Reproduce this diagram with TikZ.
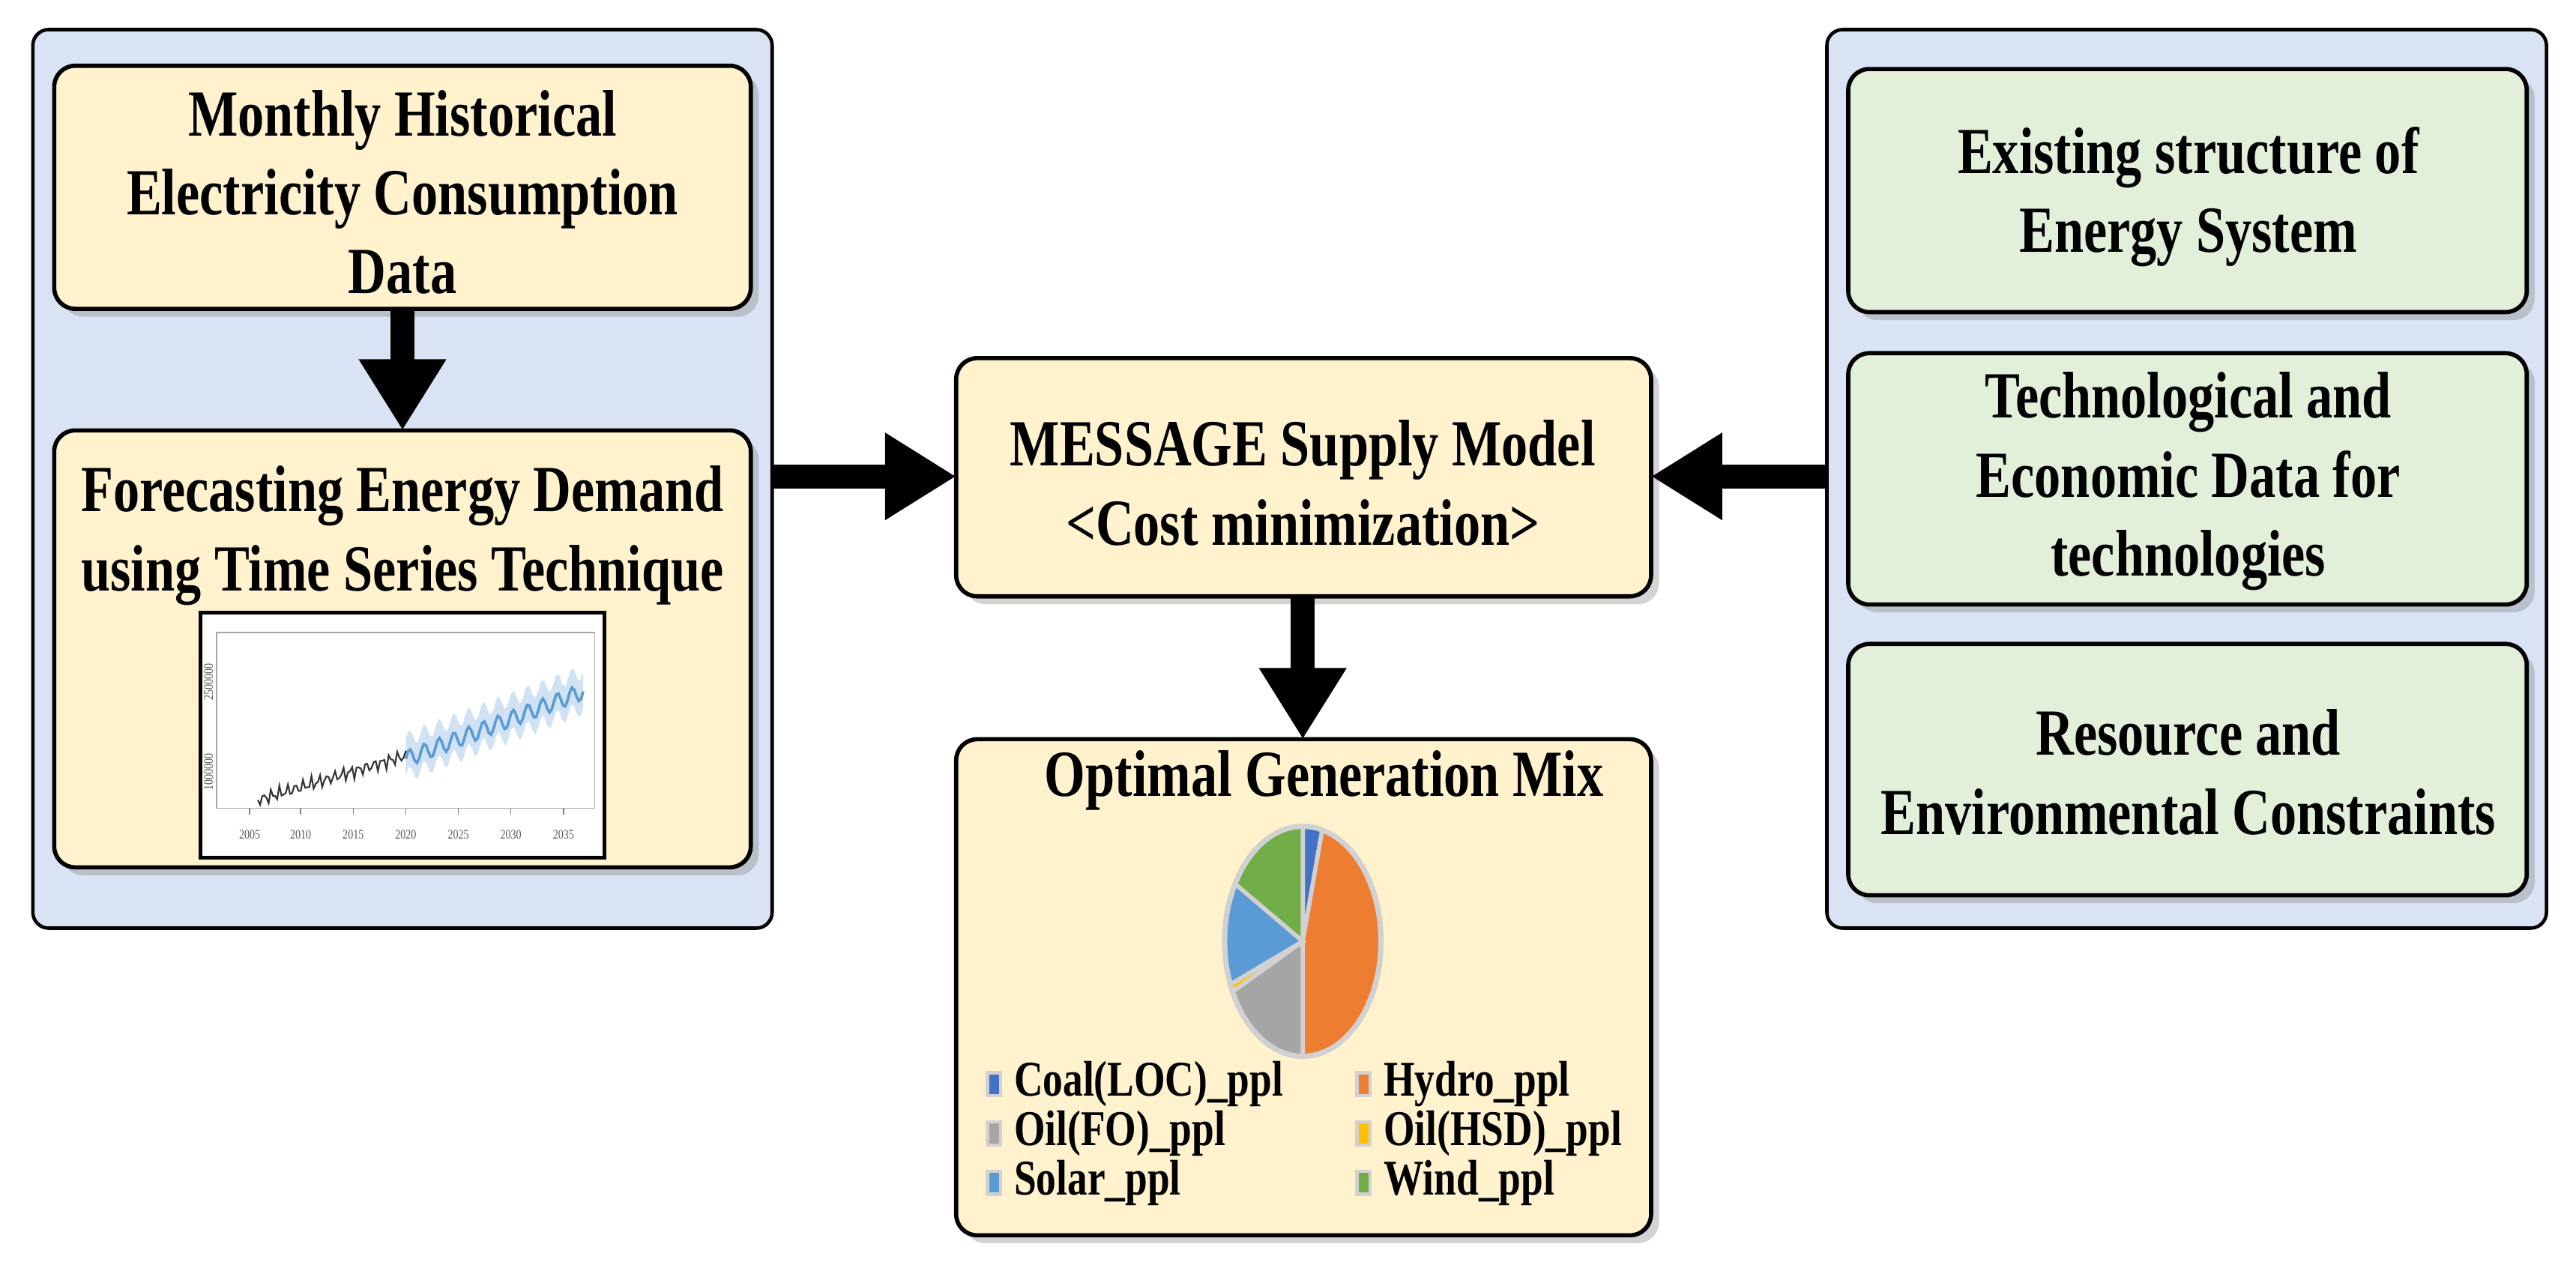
\documentclass[tikz,border=0pt]{standalone}
\usepackage{fontspec}
\setmainfont{Liberation Serif}[FakeStretch=0.8]
\usetikzlibrary{arrows.meta,shadows}
\definecolor{panel}{HTML}{DAE3F3}
\definecolor{yel}{HTML}{FFF2CC}
\definecolor{grn}{HTML}{E2F0D9}
\definecolor{cb}{HTML}{4472C4}
\definecolor{co}{HTML}{ED7D31}
\definecolor{cg}{HTML}{A5A5A5}
\definecolor{cy}{HTML}{FFC000}
\definecolor{cs}{HTML}{5B9BD5}
\definecolor{cw}{HTML}{70AD47}
\begin{document}
\begin{tikzpicture}[x=0.02192cm,y=-0.02192cm,
  pnl/.style={draw=black,line width=1.3pt,fill=panel,rounded corners=6pt},
  box/.style={draw=black,line width=1.6pt,rounded corners=8pt,drop shadow={opacity=0.35,shadow xshift=3pt,shadow yshift=-3pt}},
  txt/.style={font=\fontsize{25}{30}\selectfont\bfseries,align=center},
  leg/.style={font=\fontsize{19}{22}\selectfont\bfseries,anchor=west,inner sep=0},
  big/.style={line width=9pt,-{Triangle[length=0.95cm,width=1.1cm]}}]
\useasboundingbox (0,0) rectangle (1568,770);
% panels
\draw[pnl] (20,18) rectangle (470,565);
\draw[pnl] (1112,18) rectangle (1550,565);
\coordinate (lp) at (470,290); \coordinate (rp) at (1112,290);
% left boxes
\draw[box,fill=yel] (33,40) rectangle (457,188);
\node[txt] (b1) at (245,117) {Monthly Historical\\Electricity Consumption\\Data};
\coordinate (b1s) at (245,188);
\draw[box,fill=yel] (33,262) rectangle (457,528);
\coordinate (b2n) at (245,262);
\node[txt] (b2) at (245,326) {Forecasting Energy Demand\\using Time Series Technique};
% chart
\draw[line width=1.3pt,fill=white] (122,373) rectangle (368,522);
\draw[gray!70,line width=0.5pt] (132,385) rectangle (362,492);
\foreach \yr/\xx in {2005/152,2010/183,2015/215,2020/247,2025/279,2030/311,2035/343}{
  \draw[gray] (\xx,492)--(\xx,496);
  \node[font=\fontsize{5}{5}\selectfont,text=gray!70!black] (t\yr) at (\xx,508) {\yr};}
\node[font=\fontsize{5}{5}\selectfont,rotate=90,text=gray!70!black] (ya) at (127,470) {1000000};
\node[font=\fontsize{5}{5}\selectfont,rotate=90,text=gray!70!black] (yb) at (127,415) {2500000};
\fill[cs!40,opacity=0.7] (247,462) -- plot[domain=247:355,samples=60] (\x,{462-0.38*(\x-247)-5*sin((\x-247)*40)-12}) -- plot[domain=355:247,samples=60] (\x,{462-0.38*(\x-247)-5*sin((\x-247)*40)+10}) -- cycle;
\draw[cs,line width=1pt] plot[domain=247:355,samples=80] (\x,{462-0.38*(\x-247)-5*sin((\x-247)*40)});
\draw[black!80,line width=0.6pt] plot[domain=157:247,samples=70] (\x,{487-0.3*(\x-157)+3*sin((\x-157)*75)+2*sin((\x-157)*130)});
% center
\draw[box,fill=yel] (582,218) rectangle (1005,363);
\node[txt] (m) at (793,294) {MESSAGE Supply Model\\<Cost minimization>};
\coordinate (mw) at (582,290); \coordinate (me) at (1005,290); \coordinate (ms) at (793,363);
\draw[box,fill=yel] (582,450) rectangle (1005,752);
\coordinate (on) at (793,450);
\node[txt] (o) at (806,475) {Optimal Generation Mix};
% pie
\begin{scope}[shift={(793,573)},xscale=0.68,yscale=-1]
\def\r{70}
\def\sl#1#2#3{\fill[#3,draw=black!18,line width=1.6pt] (0,0) -- ({90-#1}:\r) arc[start angle={90-#1},end angle={90-#2},radius=\r] -- cycle;}
\sl{0}{14.4}{cb}
\sl{14.4}{180}{co}
\sl{180}{244}{cg}
\sl{244}{248}{cy}
\sl{248}{300}{cs}
\sl{300}{360}{cw}
\draw[black!18,line width=2pt] (0,0) circle (\r);
\end{scope}
% legend
\foreach \c/\xx/\yy/\t [count=\i] in {cb/605/660/Coal(LOC)\_ppl,co/830/660/Hydro\_ppl,cg/605/690/Oil(FO)\_ppl,cy/830/690/Oil(HSD)\_ppl,cs/605/720/Solar\_ppl,cw/830/720/Wind\_ppl}{
  \fill[black!18] (\xx-5,\yy-8) rectangle (\xx+5,\yy+8);
  \fill[\c] (\xx-3,\yy-6) rectangle (\xx+3,\yy+6);
  \node[leg] (l\i) at (\xx+12,\yy) {\t};}
% right boxes
\draw[box,fill=grn] (1125,42) rectangle (1538,190);
\node[txt] (r1) at (1332,120) {Existing structure of\\Energy System};
\draw[box,fill=grn] (1125,215) rectangle (1538,368);
\node[txt] (r2) at (1332,293) {Technological and\\Economic Data for\\technologies};
\draw[box,fill=grn] (1125,392) rectangle (1538,545);
\node[txt] (r3) at (1332,470) {Resource and\\Environmental Constraints};
% arrows
\draw[big] (b1s) -- (b2n);
\draw[big] (lp) -- (mw);
\draw[big] (rp) -- (me);
\draw[big] (ms) -- (on);
\end{tikzpicture}
\end{document}
